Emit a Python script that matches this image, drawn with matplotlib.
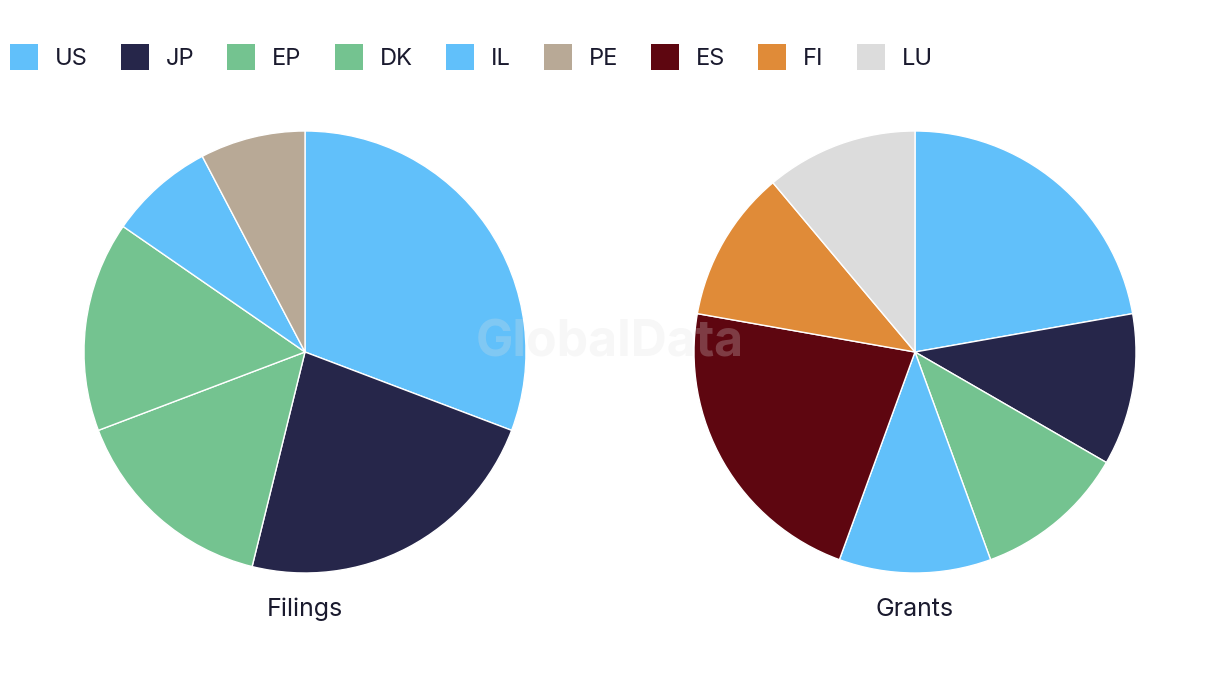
import matplotlib.pyplot as plt
from matplotlib.patches import Patch

plt.rcParams["font.family"] = ["Inter", "DejaVu Sans"]

# legend order and colours
codes = ["US", "JP", "EP", "DK", "IL", "PE", "ES", "FI", "LU"]
colors = {
    "US": "#61c0fa", "JP": "#26264a", "EP": "#74c390", "DK": "#74c390",
    "IL": "#61c0fa", "PE": "#b8a996", "ES": "#5e0610", "FI": "#e08b38",
    "LU": "#dcdcdc",
}

filing_codes = ["US", "JP", "EP", "DK", "IL", "PE"]
filing_counts = [4, 3, 2, 2, 1, 1]

grant_codes = ["US", "JP", "EP", "IL", "ES", "FI", "LU"]
grant_counts = [2, 1, 1, 1, 2, 1, 1]

text_color = "#1a1a2e"

fig = plt.figure(figsize=(12.2, 6.86), dpi=100)

W, H = 1220, 686
R = 221
for cx, cy, labels, counts, title in [
    (305, 352, filing_codes, filing_counts, "Filings"),
    (915, 352, grant_codes, grant_counts, "Grants"),
]:
    ax = fig.add_axes([(cx - R) / W, 1 - (cy + R) / H, 2 * R / W, 2 * R / H])
    ax.pie(counts, colors=[colors[c] for c in labels], startangle=90,
           counterclock=False, radius=1.0,
           wedgeprops=dict(edgecolor="white", linewidth=1))
    ax.set_xlim(-1, 1)
    ax.set_ylim(-1, 1)
    ax.set_aspect("equal")
    ax.axis("off")
    fig.text(cx / W, 1 - 609 / H, title, ha="center", va="center",
             fontsize=18, color=text_color)

# faint watermark
fig.text(610 / W, 1 - 343 / H, "GlobalData", ha="center", va="center",
         fontsize=36, fontweight="bold", color="#e0e0e0", alpha=0.25)

fs = 17
px = fs * 100 / 72
handles = [Patch(facecolor=colors[c], edgecolor="none") for c in codes]
fig.legend(handles, codes, loc="center left",
           bbox_to_anchor=(10 / W, 1 - 57 / H),
           ncol=len(codes), frameon=False, fontsize=fs,
           handlelength=28 / px, handleheight=32 / px,
           handletextpad=17 / px, columnspacing=33 / px,
           labelcolor=text_color, borderaxespad=0, borderpad=0)

fig.savefig("out.png", dpi=100)
